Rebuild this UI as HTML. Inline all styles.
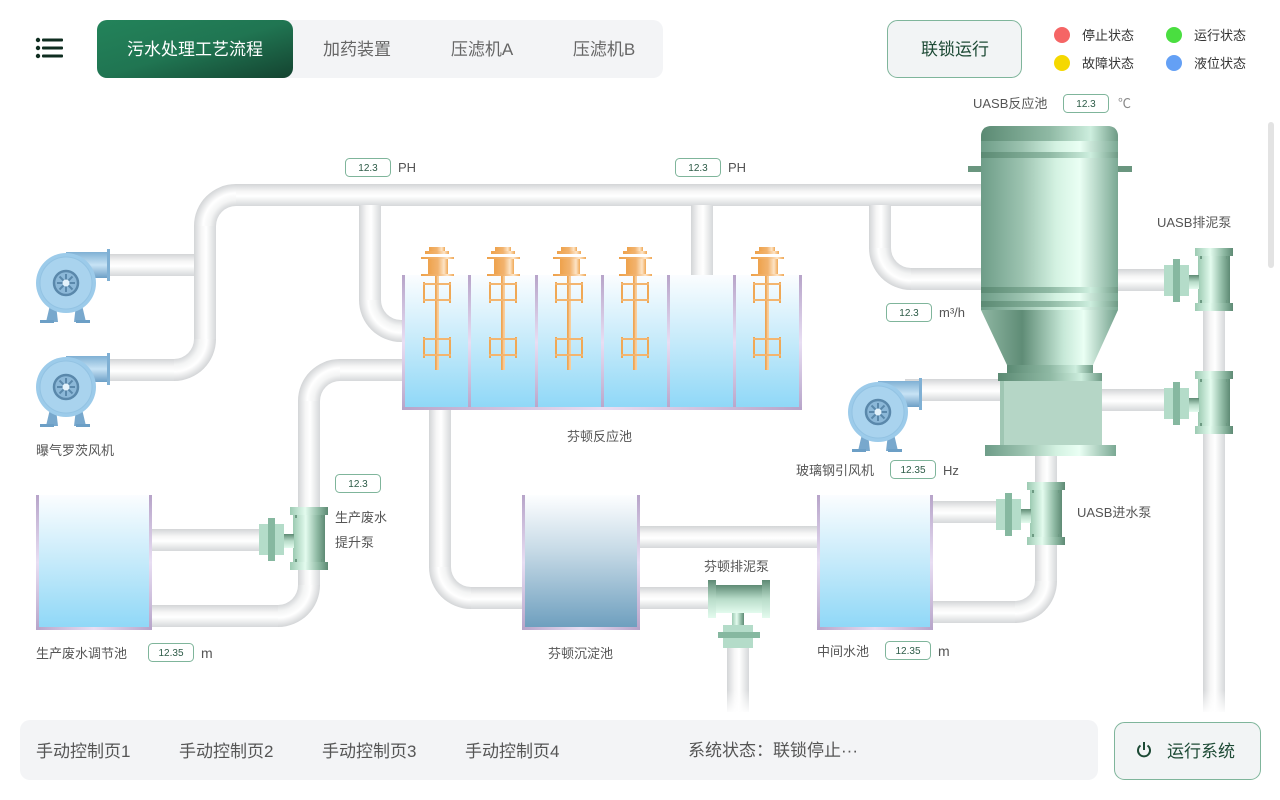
<!DOCTYPE html>
<html><head><meta charset="utf-8"><style>
html,body{margin:0;padding:0;background:#fff;width:1280px;height:800px;overflow:hidden;font-family:"Liberation Sans","Noto Sans CJK SC",sans-serif}
svg{position:absolute;left:0;top:0}
</style></head><body>
<svg width="1280" height="800" viewBox="0 0 1280 800" font-family="Liberation Sans, Noto Sans CJK SC, sans-serif">
<defs>
<linearGradient id="pH" x1="0" y1="0" x2="0" y2="1"><stop offset="0" stop-color="#d3d5d7"/><stop offset=".35" stop-color="#f7f7f7"/><stop offset=".55" stop-color="#fff"/><stop offset="1" stop-color="#d6d8da"/></linearGradient>
<linearGradient id="pV" x1="0" y1="0" x2="1" y2="0"><stop offset="0" stop-color="#d3d5d7"/><stop offset=".35" stop-color="#f7f7f7"/><stop offset=".55" stop-color="#fff"/><stop offset="1" stop-color="#d6d8da"/></linearGradient>
<radialGradient id="e11" cx="1" cy="1" r="1"><stop offset=".476" stop-color="#d6d8da"/><stop offset=".62" stop-color="#f3f4f4"/><stop offset=".78" stop-color="#fff"/><stop offset="1" stop-color="#d3d5d7"/></radialGradient>
<radialGradient id="e00" cx="0" cy="0" r="1"><stop offset=".476" stop-color="#d6d8da"/><stop offset=".62" stop-color="#f3f4f4"/><stop offset=".78" stop-color="#fff"/><stop offset="1" stop-color="#d3d5d7"/></radialGradient>
<radialGradient id="e10" cx="1" cy="0" r="1"><stop offset=".476" stop-color="#d6d8da"/><stop offset=".62" stop-color="#f3f4f4"/><stop offset=".78" stop-color="#fff"/><stop offset="1" stop-color="#d3d5d7"/></radialGradient>
<linearGradient id="water" x1="0" y1="0" x2="0" y2="1"><stop offset="0" stop-color="#fbfdff"/><stop offset=".5" stop-color="#c5eafa"/><stop offset="1" stop-color="#8dd7f7"/></linearGradient>
<linearGradient id="sed" x1="0" y1="0" x2="0" y2="1"><stop offset="0" stop-color="#fdfeff"/><stop offset=".4" stop-color="#c8dbe7"/><stop offset="1" stop-color="#6b9dbd"/></linearGradient>
<linearGradient id="wall" x1="0" y1="0" x2="0" y2="1"><stop offset="0" stop-color="#b7a4c9"/><stop offset=".5" stop-color="#e8def3"/><stop offset="1" stop-color="#b7a4c9"/></linearGradient>
<linearGradient id="wallH" x1="0" y1="0" x2="1" y2="0"><stop offset="0" stop-color="#b7a4c9"/><stop offset=".5" stop-color="#e8def3"/><stop offset="1" stop-color="#b7a4c9"/></linearGradient>
<linearGradient id="or" x1="0" y1="0" x2="1" y2="0"><stop offset="0" stop-color="#eea24c"/><stop offset=".5" stop-color="#f2b36e"/><stop offset=".8" stop-color="#fde4c6"/><stop offset="1" stop-color="#f0a855"/></linearGradient>
<linearGradient id="gV" x1="0" y1="0" x2="1" y2="0"><stop offset="0" stop-color="#9ccab2"/><stop offset=".4" stop-color="#e3fbee"/><stop offset=".75" stop-color="#8fbaa4"/><stop offset="1" stop-color="#5e8a74"/></linearGradient>
<linearGradient id="gH" x1="0" y1="0" x2="0" y2="1"><stop offset="0" stop-color="#5e8a74"/><stop offset=".5" stop-color="#b8dcc9"/><stop offset="1" stop-color="#e3fbee"/></linearGradient>
<linearGradient id="uasb" x1="0" y1="0" x2="1" y2="0"><stop offset="0" stop-color="#6e9d88"/><stop offset=".3" stop-color="#9cc3b0"/><stop offset=".55" stop-color="#d4f2e2"/><stop offset=".72" stop-color="#eafff4"/><stop offset="1" stop-color="#7aa893"/></linearGradient>
<linearGradient id="uasbD" x1="0" y1="0" x2="1" y2="0"><stop offset="0" stop-color="#5b8a73"/><stop offset=".5" stop-color="#8fb9a4"/><stop offset=".8" stop-color="#cdeede"/><stop offset="1" stop-color="#6e9a85"/></linearGradient>
<linearGradient id="cone" x1="0" y1="0" x2="1" y2="0"><stop offset="0" stop-color="#8fb7a3"/><stop offset=".3" stop-color="#5f8c76"/><stop offset=".6" stop-color="#c6e8d7"/><stop offset=".75" stop-color="#eafff4"/><stop offset="1" stop-color="#6e9d88"/></linearGradient>
<linearGradient id="blue" x1="0" y1="0" x2="0" y2="1"><stop offset="0" stop-color="#7fb0d4"/><stop offset=".5" stop-color="#c7e3f5"/><stop offset="1" stop-color="#6c9fc6"/></linearGradient>
<linearGradient id="tab" x1="0" y1="0" x2="1" y2="1"><stop offset="0" stop-color="#23835a"/><stop offset=".5" stop-color="#207552"/><stop offset="1" stop-color="#144330"/></linearGradient>
<linearGradient id="fadeV" x1="0" y1="0" x2="0" y2="1"><stop offset="0" stop-color="#fff" stop-opacity="0"/><stop offset="1" stop-color="#fff"/></linearGradient>

<g id="mixer">
<rect x="-8" y="247" width="16" height="4" fill="url(#or)"/>
<rect x="-12" y="251" width="24" height="3" fill="url(#or)"/>
<rect x="-16" y="257" width="33" height="2" fill="url(#or)"/>
<rect x="-9" y="259" width="20" height="15" fill="url(#or)"/>
<rect x="-16" y="274" width="33" height="2" fill="url(#or)"/>
<rect x="-2" y="276" width="4" height="94" fill="url(#or)"/>
<rect x="-14" y="282" width="2" height="21" fill="#f0a855"/><rect x="12" y="282" width="2" height="21" fill="#f0a855"/>
<rect x="-14" y="283" width="28" height="2" fill="#f3b56f"/><rect x="-14" y="299" width="28" height="2" fill="#f3b56f"/>
<rect x="-14" y="337" width="2" height="21" fill="#f0a855"/><rect x="12" y="337" width="2" height="21" fill="#f0a855"/>
<rect x="-14" y="338" width="28" height="2" fill="#f3b56f"/><rect x="-14" y="354" width="28" height="2" fill="#f3b56f"/>
</g>

<g id="pumpV">
<rect x="-19" y="0" width="38" height="8" fill="url(#gV)"/>
<rect x="-16" y="8" width="32" height="47" fill="url(#gV)"/>
<rect x="-19" y="55" width="38" height="8" fill="url(#gV)"/>
<rect x="-14" y="8" width="2" height="3" fill="#6d9a83"/><rect x="12" y="8" width="2" height="3" fill="#6d9a83"/>
<rect x="-14" y="52" width="2" height="3" fill="#6d9a83"/><rect x="12" y="52" width="2" height="3" fill="#6d9a83"/>
<rect x="-27" y="27" width="12" height="14" fill="url(#gH)"/>
<rect x="-50" y="17" width="25" height="31" fill="#b4dcc9"/>
<rect x="-41" y="11" width="7" height="43" fill="#86b8a0"/>
</g>

<g id="blower">
<rect x="0" y="-31" width="42" height="26" fill="url(#blue)"/>
<rect x="41" y="-34" width="3" height="32" fill="#7fb0d4"/>
<path d="M-16 22 L-10 22 L-8 39 L-20 39 Z" fill="#78a8cd"/><path d="M10 22 L16 22 L20 39 L8 39 Z" fill="#78a8cd"/>
<rect x="-26" y="37" width="14" height="3" fill="#6c9fc6"/><rect x="10" y="37" width="14" height="3" fill="#6c9fc6"/>
<circle r="30" fill="#9ccbea"/><circle r="26" fill="#a9d3ee" stroke="#93c3e3" stroke-width="1"/>
<circle r="12" fill="#8cb8d8" stroke="#5a88ab" stroke-width="2.5"/>
<g stroke="#5a88ab" stroke-width="2"><line x1="-9" y1="0" x2="9" y2="0"/><line x1="0" y1="-9" x2="0" y2="9"/><line x1="-6.5" y1="-6.5" x2="6.5" y2="6.5"/><line x1="-6.5" y1="6.5" x2="6.5" y2="-6.5"/></g>
<circle r="3.5" fill="#e3f2fb"/>
</g>
</defs>

<!-- Header -->
<g fill="#0f2d20"><circle cx="38" cy="40" r="2.2"/><circle cx="38" cy="48" r="2.2"/><circle cx="38" cy="56" r="2.2"/>
<rect x="42" y="38.5" width="21" height="3" rx="1"/><rect x="42" y="46.5" width="21" height="3" rx="1"/><rect x="42" y="54.5" width="21" height="3" rx="1"/></g>
<rect x="97" y="20" width="566" height="58" rx="10" fill="#f3f4f6"/>
<rect x="97" y="20" width="196" height="58" rx="10" fill="url(#tab)"/>
<text x="195" y="55" font-size="17" fill="#fff" text-anchor="middle">污水处理工艺流程</text>
<text x="357" y="55" font-size="17" fill="#666" text-anchor="middle">加药装置</text>
<text x="482" y="55" font-size="17" fill="#666" text-anchor="middle">压滤机A</text>
<text x="604" y="55" font-size="17" fill="#666" text-anchor="middle">压滤机B</text>
<rect x="887.5" y="20.5" width="134" height="57" rx="10" fill="#f2f4f5" stroke="#7fb59b"/>
<text x="955" y="55" font-size="17" fill="#1d4a35" text-anchor="middle">联锁运行</text>
<circle cx="1062" cy="35" r="8" fill="#f56565"/><text x="1082" y="40" font-size="13" fill="#333">停止状态</text>
<circle cx="1174" cy="35" r="8" fill="#4ade40"/><text x="1194" y="40" font-size="13" fill="#333">运行状态</text>
<circle cx="1062" cy="63" r="8" fill="#f5d800"/><text x="1082" y="68" font-size="13" fill="#333">故障状态</text>
<circle cx="1174" cy="63" r="8" fill="#64a0f5"/><text x="1194" y="68" font-size="13" fill="#333">液位状态</text>
<rect x="1268" y="122" width="6" height="146" rx="3" fill="#e3e3e3"/>

<!-- Pipes -->
<g fill="url(#pH)">
<rect x="235" y="184" width="748" height="22"/>
<rect x="100" y="254" width="95" height="22"/>
<rect x="100" y="359" width="75" height="22"/>
<rect x="400" y="320" width="5" height="22"/>
<rect x="910" y="268" width="73" height="22"/>
<rect x="339" y="359" width="66" height="22"/>
<rect x="150" y="529" width="112" height="22"/>
<rect x="150" y="605" width="129" height="22"/>
<rect x="470" y="587" width="54" height="22"/>
<rect x="638" y="526" width="181" height="22"/>
<rect x="638" y="587" width="72" height="22"/>
<rect x="931" y="501" width="67" height="22"/>
<rect x="931" y="601" width="85" height="22"/>
<rect x="1116" y="269" width="50" height="22"/>
<rect x="1100" y="389" width="66" height="22"/>
<rect x="905" y="379" width="96" height="22"/>
</g>
<g fill="url(#pV)">
<rect x="194" y="225" width="22" height="115"/>
<rect x="359" y="205" width="22" height="96"/>
<rect x="691" y="205" width="22" height="71"/>
<rect x="869" y="205" width="22" height="44"/>
<rect x="298" y="400" width="22" height="186"/>
<rect x="429" y="408" width="22" height="160"/>
<rect x="727" y="640" width="22" height="72"/>
<rect x="1035" y="455" width="22" height="127"/>
<rect x="1203" y="305" width="22" height="407"/>
</g>
<rect x="720" y="690" width="36" height="24" fill="url(#fadeV)"/>
<rect x="1196" y="690" width="36" height="24" fill="url(#fadeV)"/>
<!-- Elbows -->
<path d="M194,226 A42,42 0 0 1 236,184 L236,206 A20,20 0 0 0 216,226 Z" fill="url(#e11)"/>
<path d="M216,339 A42,42 0 0 1 174,381 L174,359 A20,20 0 0 0 194,339 Z" fill="url(#e00)"/>
<path d="M359,300 A42,42 0 0 0 401,342 L401,320 A20,20 0 0 1 381,300 Z" fill="url(#e10)"/>
<path d="M869,248 A42,42 0 0 0 911,290 L911,268 A20,20 0 0 1 891,248 Z" fill="url(#e10)"/>
<path d="M298,401 A42,42 0 0 1 340,359 L340,381 A20,20 0 0 0 320,401 Z" fill="url(#e11)"/>
<path d="M320,585 A42,42 0 0 1 278,627 L278,605 A20,20 0 0 0 298,585 Z" fill="url(#e00)"/>
<path d="M429,567 A42,42 0 0 0 471,609 L471,587 A20,20 0 0 1 451,567 Z" fill="url(#e10)"/>
<path d="M1057,581 A42,42 0 0 1 1015,623 L1015,601 A20,20 0 0 0 1035,581 Z" fill="url(#e00)"/>

<!-- Reactor tanks -->
<g>
<rect x="402" y="275" width="400" height="135" fill="url(#water)"/>
<g fill="url(#wall)">
<rect x="402" y="275" width="3" height="135"/><rect x="468" y="275" width="3" height="135"/><rect x="535" y="275" width="3" height="135"/><rect x="601" y="275" width="3" height="135"/><rect x="667" y="275" width="3" height="135"/><rect x="733" y="275" width="3" height="135"/><rect x="799" y="275" width="3" height="135"/>
</g>
<rect x="402" y="407" width="400" height="3" fill="url(#wallH)"/>
</g>
<use href="#mixer" x="437"/><use href="#mixer" x="503"/><use href="#mixer" x="569"/><use href="#mixer" x="635"/><use href="#mixer" x="767"/>

<!-- Other tanks -->
<rect x="36" y="495" width="116" height="135" fill="url(#water)"/>
<rect x="36" y="495" width="3" height="135" fill="url(#wall)"/><rect x="149" y="495" width="3" height="135" fill="url(#wall)"/><rect x="36" y="627" width="116" height="3" fill="url(#wallH)"/>
<rect x="522" y="495" width="118" height="135" fill="url(#sed)"/>
<rect x="522" y="495" width="3" height="135" fill="url(#wall)"/><rect x="637" y="495" width="3" height="135" fill="url(#wall)"/><rect x="522" y="627" width="118" height="3" fill="url(#wallH)"/>
<rect x="817" y="495" width="116" height="135" fill="url(#water)"/>
<rect x="817" y="495" width="3" height="135" fill="url(#wall)"/><rect x="930" y="495" width="3" height="135" fill="url(#wall)"/><rect x="817" y="627" width="116" height="3" fill="url(#wallH)"/>

<!-- UASB -->
<rect x="968" y="166" width="164" height="6" fill="#6a967f"/>
<path d="M981,310 L981,137 Q981,126 992,126 L1107,126 Q1118,126 1118,137 L1118,310 Z" fill="url(#uasb)"/>
<path d="M981,141 L981,137 Q981,126 992,126 L1107,126 Q1118,126 1118,137 L1118,141 Z" fill="url(#uasbD)"/>
<rect x="981" y="152" width="137" height="6" fill="url(#uasbD)"/>
<rect x="981" y="287" width="137" height="6" fill="url(#uasbD)"/>
<rect x="981" y="301" width="137" height="6" fill="url(#uasbD)"/>
<path d="M981,310 L1118,310 L1093,365 L1007,365 Z" fill="url(#cone)"/>
<rect x="1007" y="365" width="86" height="8" fill="url(#uasbD)"/>
<rect x="998" y="373" width="104" height="8" fill="url(#uasbD)"/>
<rect x="1000" y="381" width="102" height="64" fill="#b5d6c6"/>
<rect x="1000" y="381" width="4" height="64" fill="#9fc6b3"/>
<rect x="985" y="445" width="131" height="11" fill="url(#uasb)"/>

<!-- Pumps -->
<use href="#pumpV" x="309" y="507"/>
<use href="#pumpV" x="1046" y="482"/>
<use href="#pumpV" x="1214" y="248"/>
<use href="#pumpV" x="1214" y="371"/>
<!-- horizontal sludge pump -->
<rect x="708" y="580" width="8" height="38" fill="url(#gH)"/>
<rect x="716" y="585" width="46" height="28" fill="url(#gH)"/>
<rect x="762" y="580" width="8" height="38" fill="url(#gH)"/>
<rect x="732" y="613" width="12" height="12" fill="url(#gV)"/>
<rect x="723" y="625" width="30" height="23" fill="#b4dcc9"/>
<rect x="718" y="632" width="42" height="6" fill="#86b8a0"/>

<!-- Blowers -->
<use href="#blower" x="66" y="283"/>
<use href="#blower" x="66" y="387"/>
<use href="#blower" x="878" y="412"/>

<!-- Labels -->
<g font-size="13" fill="#555">
<text x="36" y="455">曝气罗茨风机</text>
<text x="567" y="441">芬顿反应池</text>
<text x="335" y="522">生产废水</text>
<text x="335" y="547">提升泵</text>
<text x="36" y="658">生产废水调节池</text>
<text x="201" y="658" font-size="14">m</text>
<text x="548" y="658">芬顿沉淀池</text>
<text x="704" y="571">芬顿排泥泵</text>
<text x="817" y="656">中间水池</text>
<text x="938" y="656" font-size="14">m</text>
<text x="796" y="475">玻璃钢引风机</text>
<text x="943" y="475">Hz</text>
<text x="1077" y="517">UASB进水泵</text>
<text x="1157" y="227">UASB排泥泵</text>
<text x="939" y="317">m³/h</text>
<text x="973" y="108">UASB反应池</text>
<text x="1118" y="108" fill="#888">℃</text>
<text x="398" y="172">PH</text>
<text x="728" y="172">PH</text>
</g>
<g fill="#fff" stroke="#7fb59b" stroke-width="1">
<rect x="345.5" y="158.5" width="45" height="18" rx="4"/>
<rect x="675.5" y="158.5" width="45" height="18" rx="4"/>
<rect x="1063.5" y="94.5" width="45" height="18" rx="4"/>
<rect x="886.5" y="303.5" width="45" height="18" rx="4"/>
<rect x="890.5" y="460.5" width="45" height="18" rx="4"/>
<rect x="335.5" y="474.5" width="45" height="18" rx="4"/>
<rect x="148.5" y="643.5" width="45" height="18" rx="4"/>
<rect x="885.5" y="641.5" width="45" height="18" rx="4"/>
</g>
<g font-size="10" fill="#2d5b47" text-anchor="middle">
<text x="368" y="171">12.3</text>
<text x="698" y="171">12.3</text>
<text x="1086" y="107">12.3</text>
<text x="909" y="316">12.3</text>
<text x="913" y="473">12.35</text>
<text x="358" y="487">12.3</text>
<text x="171" y="656">12.35</text>
<text x="908" y="654">12.35</text>
</g>

<!-- Bottom bar -->
<rect x="20" y="720" width="1078" height="60" rx="10" fill="#f3f4f6"/>
<g font-size="17" fill="#555">
<text x="36" y="757">手动控制页1</text>
<text x="179" y="757">手动控制页2</text>
<text x="322" y="757">手动控制页3</text>
<text x="465" y="757">手动控制页4</text>
<text x="688" y="756">系统状态：联锁停止···</text>
</g>
<rect x="1114.5" y="722.5" width="146" height="57" rx="10" fill="#f2f4f5" stroke="#7fb59b"/>
<path d="M1140.5,745.5 A6,6 0 1 0 1147.5,745.5" fill="none" stroke="#1d4a35" stroke-width="2"/>
<line x1="1144" y1="742" x2="1144" y2="750" stroke="#1d4a35" stroke-width="2"/>
<text x="1167" y="757" font-size="17" fill="#1d4a35">运行系统</text>
</svg>
</body></html>
